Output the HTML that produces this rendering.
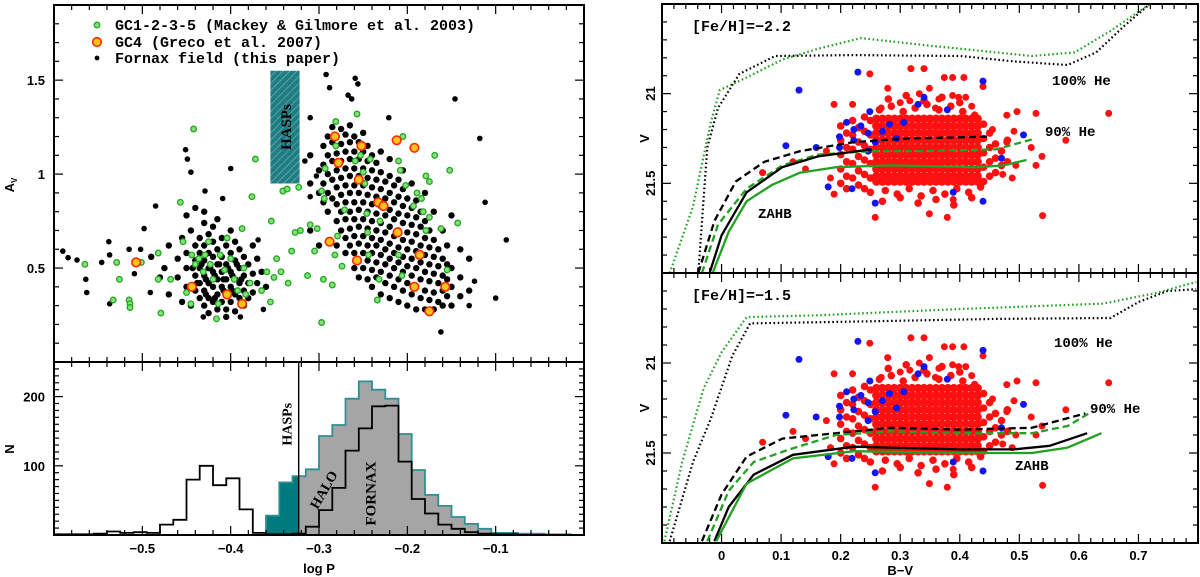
<!DOCTYPE html>
<html><head><meta charset="utf-8"><style>
html,body{margin:0;padding:0;background:#fff;}
svg{display:block;}
.tk{font-family:"Liberation Sans",sans-serif;font-weight:bold;font-size:13px;fill:#000;}
.mono{font-family:"Liberation Mono",monospace;font-weight:bold;fill:#000;}
.ser{font-family:"Liberation Serif",serif;font-weight:bold;fill:#000;}
</style></head><body>
<svg id="fig" width="1200" height="577" viewBox="0 0 1200 577" xmlns="http://www.w3.org/2000/svg">
<defs>
<pattern id="hatch" width="5" height="5" patternUnits="userSpaceOnUse" patternTransform="rotate(45)">
<rect width="5" height="5" fill="#1f7d84"/><line x1="0" y1="0" x2="0" y2="5" stroke="#7fb8bc" stroke-width="1.2"/>
</pattern>
<clipPath id="clipTL"><rect x="54" y="5" width="530" height="357"/></clipPath>
<clipPath id="clipBL"><rect x="54" y="362" width="530" height="173"/></clipPath>
<clipPath id="clipR1"><rect x="662" y="4" width="536" height="269"/></clipPath>
<clipPath id="clipR2"><rect x="662" y="273" width="536" height="270"/></clipPath>
</defs>
<g id="layer"></g>
</svg>
<script>
// ---------- LEFT TOP: Av vs logP ----------
const blackP = [-0.590,-0.584,-0.574,-0.564,-0.563,-0.546,-0.538,-0.537,-0.537,-0.515,-0.502,-0.509,-0.485,-0.498,-0.491,-0.451,-0.449,-0.445,-0.429,-0.400,-0.409,-0.363,-0.369,-0.431,-0.389,
 -0.292,-0.288,-0.259,-0.256,-0.267,-0.263,-0.221,-0.310,-0.146,-0.118,-0.112,-0.088,-0.100,-0.162,-0.124,-0.130,-0.316,-0.310,-0.303];
const blackA = [0.59,0.555,0.543,0.44,0.37,0.53,0.64,0.57,0.31,0.60,0.60,0.47,0.83,0.71,0.37,1.13,1.08,1.01,0.91,1.03,0.87,0.28,0.65,0.24,0.24,
 1.53,1.46,1.51,1.48,1.42,1.40,1.30,1.30,1.40,1.19,0.85,0.65,0.34,0.16,0.43,0.30,1.07,0.88,0.99];
const leftCoreP = [-0.47,-0.46,-0.46,-0.455,-0.45,-0.45,-0.45,-0.445,-0.44,-0.44,-0.44,-0.44,-0.435,-0.435,-0.435,-0.435,-0.435,-0.43,-0.43,-0.43,-0.43,-0.43,-0.43,-0.425,-0.425,-0.425,-0.425,-0.425,-0.42,-0.42,-0.42,-0.42,-0.42,-0.42,-0.415,-0.415,-0.415,-0.415,-0.415,-0.41,-0.41,-0.41,-0.41,-0.41,-0.405,-0.405,-0.405,-0.405,-0.405,-0.40,-0.40,-0.40,-0.40,-0.40,-0.395,-0.395,-0.395,-0.395,-0.395,-0.39,-0.39,-0.39,-0.39,-0.385,-0.385,-0.385,-0.385,-0.38,-0.38,-0.38,-0.375,-0.375,-0.375,-0.37,-0.37,-0.365,-0.36,-0.47,-0.48,-0.49,-0.475,-0.455,-0.445,-0.45,-0.44,-0.43,-0.415,-0.425,-0.405,
 -0.438,-0.428,-0.418,-0.408,-0.398,-0.388,-0.433,-0.423,-0.413,-0.403,-0.393,-0.443,-0.428,-0.418,-0.408,-0.398];
const leftCoreA = [0.62,0.55,0.45,0.66,0.58,0.50,0.40,0.70,0.62,0.54,0.46,0.38,0.66,0.58,0.50,0.42,0.34,0.74,0.62,0.54,0.46,0.38,0.30,0.68,0.58,0.50,0.42,0.34,0.72,0.64,0.56,0.48,0.40,0.32,0.60,0.52,0.44,0.36,0.28,0.66,0.56,0.48,0.40,0.32,0.62,0.52,0.44,0.36,0.28,0.70,0.58,0.48,0.40,0.32,0.64,0.54,0.44,0.36,0.27,0.60,0.50,0.42,0.34,0.56,0.46,0.38,0.30,0.52,0.42,0.34,0.62,0.47,0.37,0.55,0.42,0.48,0.40,0.36,0.45,0.56,0.50,0.32,0.30,0.78,0.82,0.80,0.76,0.26,0.24,
 0.42,0.44,0.46,0.44,0.46,0.44,0.52,0.50,0.52,0.50,0.52,0.50,0.36,0.34,0.38,0.38];
const rightCoreP = [-0.31,-0.30,-0.295,-0.29,-0.285,-0.28,-0.275,-0.27,-0.265,-0.26,-0.255,-0.25,-0.245,-0.24,-0.235,-0.23,-0.225,-0.22,-0.215,-0.21,-0.205,-0.20,-0.195,-0.19,-0.185,-0.18,-0.175,-0.17,-0.165,-0.16,-0.155,-0.15,-0.14,-0.13];
const rightCoreA = [[0.95,0.70,1.10],[0.90,1.02,0.62],[0.85,0.95,1.05,1.15],[0.80,0.90,1.00,1.10,1.20],[0.87,0.97,1.07,1.17,1.25],
 [0.62,0.75,0.84,0.93,1.02,1.11,1.20],[0.70,0.80,0.89,0.98,1.07,1.16,1.24],[0.58,0.66,0.76,0.85,0.94,1.03,1.12,1.21],[0.62,0.71,0.80,0.90,0.99,1.08,1.17,1.26],
 [0.50,0.58,0.67,0.76,0.85,0.94,1.03,1.12,1.20],[0.45,0.54,0.63,0.72,0.81,0.90,0.99,1.08,1.17],[0.50,0.58,0.67,0.76,0.85,0.94,1.03,1.12,1.22],
 [0.44,0.54,0.62,0.71,0.80,0.89,0.98,1.07,1.15],[0.40,0.49,0.58,0.66,0.75,0.84,0.93,1.02,1.10],[0.45,0.53,0.62,0.70,0.79,0.88,0.97,1.06],
 [0.36,0.48,0.57,0.65,0.74,0.83,0.92,1.01,1.12],[0.42,0.52,0.60,0.69,0.78,0.87,0.96],[0.34,0.46,0.55,0.63,0.72,0.81,0.90,0.99,1.08],
 [0.40,0.50,0.58,0.67,0.76,0.85,0.94],[0.32,0.44,0.53,0.61,0.70,0.79,0.88,0.97],[0.38,0.48,0.56,0.65,0.74,0.83,0.92,1.02],
 [0.30,0.42,0.51,0.60,0.69,0.78,0.87],[0.36,0.46,0.55,0.64,0.73,0.82,0.95],[0.28,0.40,0.50,0.59,0.68,0.77,0.86],[0.34,0.44,0.53,0.62,0.72,0.80],
 [0.28,0.38,0.48,0.57,0.66,0.75,0.90],[0.33,0.43,0.52,0.61,0.70],[0.28,0.37,0.47,0.56,0.65,0.80],[0.32,0.42,0.51,0.60],[0.30,0.38,0.46,0.55,0.70],
 [0.35,0.44,0.52,0.62],[0.30,0.40,0.50,0.78],[0.35,0.45,0.60],[0.38,0.55]];
const greenP = [-0.565,-0.533,-0.529,-0.526,-0.515,-0.514,-0.514,-0.501,-0.482,-0.479,-0.482,-0.468,-0.457,-0.454,-0.450,-0.444,-0.445,-0.442,-0.440,-0.436,-0.431,-0.429,-0.425,-0.423,-0.420,-0.416,-0.414,-0.412,-0.407,-0.404,-0.400,-0.396,-0.392,-0.387,-0.385,-0.383,-0.378,-0.376,-0.372,-0.365,-0.359,-0.355,-0.354,-0.351,-0.348,-0.343,-0.341,-0.336,-0.335,-0.331,-0.327,-0.323,-0.321,-0.313,-0.310,-0.305,-0.302,-0.297,-0.295,-0.297,-0.294,-0.293,-0.285,-0.281,-0.281,-0.279,-0.282,-0.274,-0.271,-0.257,-0.259,-0.253,-0.250,-0.248,-0.246,-0.245,-0.244,-0.242,-0.234,-0.232,-0.231,-0.210,-0.208,-0.210,-0.206,-0.205,-0.202,-0.193,-0.189,-0.184,-0.182,-0.179,-0.179,-0.175,-0.169,-0.175,-0.162,-0.155,-0.152,-0.143];
const greenA = [0.52,0.33,0.53,0.44,0.33,0.31,0.29,0.53,0.58,0.26,0.44,0.44,0.85,0.64,0.37,0.57,0.31,1.24,0.52,0.55,0.48,0.57,0.64,0.52,0.44,0.23,0.31,0.57,0.49,0.66,0.55,0.44,0.38,0.71,0.50,0.36,0.42,0.88,1.08,0.38,0.48,0.32,0.75,0.45,0.55,0.48,0.91,0.92,0.42,0.59,0.69,0.93,0.70,0.46,0.73,0.59,0.71,0.91,0.44,0.21,0.87,1.03,0.41,1.28,1.15,0.67,0.57,0.51,0.81,1.32,1.07,1.10,1.01,0.95,0.79,0.69,0.57,1.08,0.33,0.44,0.75,1.07,1.02,0.57,0.46,1.20,0.94,0.83,0.90,0.87,0.80,0.70,0.99,0.96,1.10,0.77,0.71,0.49,1.02,0.74];
const gc4P = [-0.507,-0.444,-0.404,-0.387,-0.288,-0.282,-0.278,-0.255,-0.252,-0.257,-0.233,-0.227,-0.212,-0.211,-0.192,-0.192,-0.186,-0.175,-0.157];
const gc4A = [0.53,0.40,0.36,0.31,0.64,1.20,1.06,0.97,1.15,0.54,0.85,0.83,1.18,0.69,1.14,0.40,0.57,0.27,0.40];
const haspsBox = [-0.355,-0.322,0.95,1.55];

// ---------- LEFT BOTTOM: histograms ----------
const binStart = -0.6, binWidth = 0.015;
const totalHist = [1,1,1,2,5,3,4,3,15,22,80,100,72,82,37,3,1,1,2,12,36,68,122,154,186,187,106,52,31,15,9,4,2,1,1,0,0,0,0,0];
const haloHist  = [0,0,0,0,0,0,0,0,0,0,0,0,0,0,0,0,28,76,85,95,143,159,197,222,210,197,146,94,58,42,26,16,9,3,3,2,2,1,1,0];
const haspsCut = -0.323;

// ---------- RIGHT: CMDs ----------
const redBV = [0.249,0.318,0.340,0.279,0.349,0.374,0.388,0.407,0.439,0.316,0.388,0.398,0.410,0.189,0.220,0.359,0.496,0.479,0.528,0.650,0.578,0.538,0.528,0.488,0.539,0.379,0.349,0.258,0.389,0.189,0.069,0.120,0.141,0.494,0.520,0.479,0.491,0.300,0.365,0.420,0.268,0.332,0.455,0.472,0.176,0.183];
const redV  = [20.89,20.86,20.86,20.97,20.97,20.91,20.91,20.91,20.96,21.04,21.01,21.02,21.02,21.06,21.06,21.08,21.10,21.12,21.11,21.11,21.26,21.35,21.40,21.47,21.68,21.69,21.67,21.69,21.59,21.56,21.44,21.38,21.42,21.40,21.30,21.27,21.21,21.05,21.03,21.07,21.08,21.00,21.20,21.45,21.32,21.47];
const redColBV = [0.20,0.21,0.22,0.23,0.24,0.25,0.44,0.45,0.46,0.47,0.48];
const redColV = [[21.18,21.26,21.34,21.42,21.50],[21.22,21.30,21.38,21.46,21.53],[21.15,21.23,21.31,21.39,21.47],[21.19,21.27,21.35,21.43,21.51],
 [21.13,21.21,21.29,21.37,21.45,21.53],[21.15,21.23,21.31,21.39,21.47,21.55],[21.17,21.25,21.33,21.41,21.49],[21.22,21.30,21.38,21.46],
 [21.28,21.36,21.44],[21.32,21.40],[21.26,21.38]];
const redCoreBV = [0.26,0.27,0.28,0.29,0.30,0.31,0.32,0.33,0.34,0.35,0.36,0.37,0.38,0.39,0.40,0.41,0.42,0.43];
const redCoreV  = [21.14,21.18,21.22,21.26,21.30,21.34,21.38,21.42,21.46,21.49];
const redFringeBV = [0.265,0.285,0.305,0.325,0.345,0.365,0.385,0.405,0.425,0.275,0.295,0.315,0.335,0.355,0.375,0.395,0.415,0.435,0.27,0.30,0.33,0.36,0.39,0.42,0.28,0.31,0.34,0.37,0.40];
const redFringeV  = [21.09,21.07,21.10,21.08,21.06,21.09,21.07,21.10,21.12,21.54,21.56,21.53,21.57,21.54,21.56,21.53,21.55,21.52,21.60,21.58,21.61,21.59,21.62,21.58,21.03,21.01,21.04,21.02,21.05];
const blueBV = [0.229,0.130,0.439,0.340,0.330,0.379,0.249,0.108,0.159,0.179,0.219,0.258,0.439,0.389,0.507,0.470,0.210,0.222,0.234,0.246,0.198,0.222,0.270,0.282,0.306,0.294,0.258,0.246,0.198];
const blueV  = [20.88,20.98,20.93,21.02,21.06,21.09,21.10,21.29,21.30,21.52,21.53,21.61,21.60,21.55,21.23,21.36,21.16,21.20,21.18,21.22,21.24,21.26,21.21,21.17,21.16,21.25,21.27,21.32,21.30];

const t1 = {
 gdotBV:[-0.087,-0.048,-0.018,-0.003,0.042,0.102,0.162,0.234,0.342,0.461,0.521,0.593,0.653,0.719],
 gdotV:[22.0,21.63,21.16,20.98,20.91,20.81,20.75,20.69,20.73,20.77,20.79,20.77,20.65,20.50],
 kdotBV:[-0.039,-0.024,-0.006,0.030,0.090,0.222,0.401,0.491,0.581,0.629,0.677,0.719],
 kdotV:[22.0,21.30,21.08,20.89,20.79,20.785,20.79,20.82,20.84,20.77,20.62,20.50],
 kdashBV:[-0.039,-0.012,0.024,0.072,0.132,0.222,0.312,0.446],
 kdashV:[22.0,21.71,21.49,21.38,21.32,21.27,21.25,21.24],
 gdashBV:[-0.033,-0.006,0.042,0.102,0.162,0.252,0.342,0.461,0.527],
 gdashV:[22.0,21.73,21.53,21.40,21.34,21.32,21.32,21.31,21.25],
 ksolBV:[-0.020,0,0.042,0.102,0.162,0.252],
 ksolV:[22.0,21.79,21.55,21.41,21.35,21.31],
 gsolBV:[-0.015,0.012,0.042,0.084,0.132,0.192,0.282,0.431,0.473,0.512],
 gsolV:[22.0,21.77,21.60,21.51,21.44,21.41,21.40,21.41,21.40,21.37]
};
const t2 = {
 gdotBV:[-0.096,-0.066,-0.030,0,0.042,0.162,0.401,0.641,0.731,0.797],
 gdotV:[21.99,21.55,21.14,20.94,20.745,20.735,20.70,20.67,20.61,20.55],
 kdotBV:[-0.087,-0.048,-0.018,0.018,0.048,0.222,0.461,0.653,0.701,0.749,0.797],
 kdotV:[21.99,21.55,21.31,20.96,20.78,20.77,20.755,20.75,20.66,20.60,20.59],
 kdashBV:[-0.033,0,0.042,0.102,0.162,0.282,0.401,0.521,0.611],
 kdashV:[21.99,21.73,21.52,21.42,21.40,21.36,21.37,21.36,21.28],
 gdashBV:[-0.024,0.012,0.054,0.114,0.192,0.282,0.401,0.521,0.581,0.617],
 gdashV:[21.99,21.71,21.55,21.48,21.40,21.38,21.39,21.39,21.35,21.28],
 ksolBV:[-0.012,0.012,0.054,0.120,0.222,0.401,0.491,0.551,0.614],
 ksolV:[21.99,21.80,21.62,21.51,21.465,21.48,21.48,21.46,21.39],
 gsolBV:[-0.009,0.042,0.120,0.222,0.401,0.521,0.581,0.638],
 gsolV:[21.99,21.67,21.53,21.49,21.50,21.50,21.47,21.39]
};

// ---------- scales ----------
const xL = p => 54 + (p + 0.6) / 0.6 * 530;
const yA = a => 362 - a / 1.9 * 357;
const yN = n => 535 - n / 250 * 173;
const xR = b => 662 + (b + 0.1) / 0.9 * 536;
const yV1 = v => 4 + (v - 20.5) / 1.5 * 269;
const yV2 = v => 273 + (v - 20.5) / 1.5 * 270;

const NS = "http://www.w3.org/2000/svg";
const root = document.getElementById('layer');
function mk(tag, attrs, parent) {
  const e = document.createElementNS(NS, tag);
  for (const k in attrs) e.setAttribute(k, attrs[k]);
  (parent || root).appendChild(e);
  return e;
}
function grp(name, clip) {
  const g = mk('g', clip ? {'clip-path': 'url(#' + clip + ')'} : {});
  
  
  return g;
}
function dot(g, cx, cy, r, fill, stroke, sw, name) {
  const c = mk('circle', {cx: cx.toFixed(1), cy: cy.toFixed(1), r: r, fill: fill, stroke: stroke || 'none', 'stroke-width': sw || 0}, g);
  
  
  return c;
}
function text(g, x, y, s, cls, size, anchor, rot, name) {
  const t = mk('text', {x: x, y: y, class: cls, 'font-size': size, 'text-anchor': anchor || 'start'}, g);
  if (rot) t.setAttribute('transform', 'rotate(' + rot + ' ' + x + ' ' + y + ')');
  t.textContent = s;
  
  
  return t;
}
function line(g, x1, y1, x2, y2, sw, col) {
  return mk('line', {x1: x1, y1: y1, x2: x2, y2: y2, stroke: col || '#000', 'stroke-width': sw || 1}, g);
}
function xTicks(g, sx, lo, hi, minor, majorEvery, yTop, yBot) {
  const n = Math.round((hi - lo) / minor);
  for (let i = 0; i <= n; i++) {
    const v = lo + i * minor; const x = sx(v);
    const isMaj = i % majorEvery === 0; const L = isMaj ? 9 : 5;
    line(g, x, yBot, x, yBot - L, 1.2);
    line(g, x, yTop, x, yTop + L, 1.2);
  }
}
function yTicks(g, sy, lo, hi, minor, majorEvery, xLeft, xRight) {
  const n = Math.round((hi - lo) / minor);
  for (let i = 0; i <= n; i++) {
    const v = lo + i * minor; const y = sy(v);
    const isMaj = i % majorEvery === 0; const L = isMaj ? 9 : 5;
    line(g, xLeft, y, xLeft + L, y, 1.2);
    line(g, xRight, y, xRight - L, y, 1.2);
  }
}
function frame(x, y, w, h, name) {
  const r = mk('rect', {x: x, y: y, width: w, height: h, fill: 'none', stroke: '#000', 'stroke-width': 2});
  
  
}

// ===== Left top panel =====
{
  const g = grp('hasps-box', 'clipTL');
  const r = mk('rect', {x: xL(haspsBox[0]), y: yA(haspsBox[3]), width: xL(haspsBox[1]) - xL(haspsBox[0]), height: yA(haspsBox[2]) - yA(haspsBox[3]), fill: 'url(#hatch)'}, g);
  
  
  const cx = (xL(haspsBox[0]) + xL(haspsBox[1])) / 2 + 6, cy = yA(1.25);
  text(g, cx, cy, 'HASPs', 'ser', 15, 'middle', -90, 'hasps-label');

  const gb = grp('fornax-field-points', 'clipTL');
  for (let i = 0; i < blackP.length; i++) dot(gb, xL(blackP[i]), yA(blackA[i]), 2.8, '#000', null, 0, 'fornax-point');
  for (let i = 0; i < leftCoreP.length; i++) dot(gb, xL(leftCoreP[i]), yA(leftCoreA[i]), 3.2, '#000', null, 0, 'fornax-point');
  for (let j = 0; j < rightCoreP.length; j++) for (const a of rightCoreA[j]) dot(gb, xL(rightCoreP[j]), yA(a), 3.2, '#000', null, 0, 'fornax-point');

  const gg = grp('gc1235-points', 'clipTL');
  for (let i = 0; i < greenP.length; i++) dot(gg, xL(greenP[i]), yA(greenA[i]), 2.8, '#86e07a', '#21a821', 1.3, 'gc1235-point');
  const go = grp('gc4-points', 'clipTL');
  for (let i = 0; i < gc4P.length; i++) dot(go, xL(gc4P[i]), yA(gc4A[i]), 4.3, '#ffc21a', '#ff2a00', 1.6, 'gc4-point');

  const gt = grp('top-left-axes');
  xTicks(gt, xL, -0.6, 0, 0.02, 5, 5, 362);
  yTicks(gt, yA, 0, 1.9, 0.1, 5, 54, 584);
  [['1.5', 1.5], ['1', 1], ['0.5', 0.5]].forEach(([s, v]) => text(gt, 45, yA(v) + 5, s, 'tk', 13, 'end', 0, 'y-tick-label'));
  const av = text(gt, 14, 185, 'A', 'tk', 12, 'middle', -90, 'y-axis-title-av');
  const sub = mk('tspan', {'font-size': 8, dy: 3}, av); sub.textContent = 'V';

  const lg = grp('legend');
  dot(lg, 97, 25, 2.8, '#86e07a', '#21a821', 1.3, 'legend-marker-gc1235');
  dot(lg, 97, 42, 4.3, '#ffc21a', '#ff2a00', 1.6, 'legend-marker-gc4');
  dot(lg, 97, 58, 2.4, '#000', null, 0, 'legend-marker-fornax');
  text(lg, 115, 30, 'GC1-2-3-5 (Mackey & Gilmore et al. 2003)', 'mono', 15, 'start', 0, 'legend-entry-gc1235');
  text(lg, 115, 47, 'GC4 (Greco et al. 2007)', 'mono', 15, 'start', 0, 'legend-entry-gc4');
  text(lg, 115, 63, 'Fornax field (this paper)', 'mono', 15, 'start', 0, 'legend-entry-fornax');
}

// ===== Left bottom panel =====
{
  const g = grp('histograms', 'clipBL');
  function stepPath(arr, first) {
    let d = '';
    let started = false;
    for (let i = first; i < arr.length; i++) {
      const x0 = xL(binStart + i * binWidth), x1 = xL(binStart + (i + 1) * binWidth), y = yN(arr[i]);
      if (!started) { d += 'M' + x0.toFixed(1) + ',' + yN(0) + 'L' + x0.toFixed(1) + ',' + y.toFixed(1); started = true; }
      else d += 'L' + x0.toFixed(1) + ',' + y.toFixed(1);
      d += 'L' + x1.toFixed(1) + ',' + y.toFixed(1);
    }
    return d;
  }
  const haloD = stepPath(haloHist, 16);
  const hf = mk('path', {d: haloD + 'L' + xL(0) + ',' + yN(0) + 'Z', fill: '#a5a5a5', stroke: 'none'}, g);
  
  
  const cp = mk('clipPath', {id: 'tealclip'}, g);
  mk('rect', {x: xL(-0.6), y: 362, width: xL(haspsCut) - xL(-0.6), height: 173}, cp);
  const tf = mk('path', {d: haloD + 'L' + xL(0) + ',' + yN(0) + 'Z', fill: '#007a7c', stroke: 'none', 'clip-path': 'url(#tealclip)'}, g);
  
  
  const ho = mk('path', {d: haloD, fill: 'none', stroke: '#2f8f93', 'stroke-width': 1.8}, g);
  
  
  const to = mk('path', {d: stepPath(totalHist, 0), fill: 'none', stroke: '#000', 'stroke-width': 1.8}, g);
  
  
  const vl = line(g, xL(haspsCut), 362, xL(haspsCut), 535, 1.4);
  
  
  text(g, xL(haspsCut) - 7, yN(160), 'HASPs', 'ser', 14, 'middle', -90, 'hasps-hist-label');
  text(g, xL(-0.29), yN(62), 'HALO', 'ser', 14, 'middle', -60, 'halo-label');
  text(g, xL(-0.236), yN(60), 'FORNAX', 'ser', 15, 'middle', -90, 'fornax-label');

  const gt = grp('bottom-left-axes');
  xTicks(gt, xL, -0.6, 0, 0.02, 5, 362, 535);
  yTicks(gt, yN, 0, 250, 10, 10, 54, 584);
  [['200', 200], ['100', 100]].forEach(([s, v]) => text(gt, 45, yN(v) + 5, s, 'tk', 13, 'end', 0, 'y-tick-label'));
  text(gt, 14, 449, 'N', 'tk', 13, 'middle', -90, 'y-axis-title-n');
  [-0.5, -0.4, -0.3, -0.2, -0.1].forEach(v => text(gt, xL(v), 553, '\u2212' + Math.abs(v).toFixed(1), 'tk', 13, 'middle', 0, 'x-tick-label'));
  text(gt, xL(-0.3), 573, 'log P', 'tk', 13, 'middle', 0, 'x-axis-title');
  frame(54, 5, 530, 357, 'top-left-frame');
  frame(54, 362, 530, 173, 'bottom-left-frame');
}

// ===== Right panels =====
function cmd(sy, clip, curves, pre, labels) {
  const gp = grp(pre + '-points', clip);
  const R = 3.5, RED = '#ff1010';
  for (let i = 0; i < redBV.length; i++) dot(gp, xR(redBV[i]), sy(redV[i]), R, RED, null, 0, 'red-star');
  for (let j = 0; j < redColBV.length; j++) for (const v of redColV[j]) dot(gp, xR(redColBV[j]), sy(v), 3.8, RED, null, 0, 'red-star');
  for (let i = 0; i < redFringeBV.length; i++) dot(gp, xR(redFringeBV[i]), sy(redFringeV[i]), 3.8, RED, null, 0, 'red-star');
  for (const b of redCoreBV) for (const v of redCoreV) dot(gp, xR(b), sy(v), 4.3, RED, null, 0, 'red-star');
  for (let i = 0; i < blueBV.length; i++) dot(gp, xR(blueBV[i]), sy(blueV[i]), R, '#1414f0', null, 0, 'blue-star');

  const gc = grp(pre + '-models', clip);
  const styles = [
    ['gdot', '#22a022', '1.6,2.6', 2.2, 'green-100he-track'],
    ['kdot', '#000', '1.6,2.6', 2.2, 'black-100he-track'],
    ['kdash', '#000', '7,4', 2.3, 'black-90he-track'],
    ['gdash', '#22a022', '7,4', 2.3, 'green-90he-track'],
    ['ksol', '#000', '', 2.3, 'black-zahb'],
    ['gsol', '#22a022', '', 2.3, 'green-zahb']
  ];
  for (const [k, col, da, w, nm] of styles) {
    const bv = curves[k + 'BV'], v = curves[k + 'V'];
    const pts = bv.map((b, i) => xR(b).toFixed(1) + ',' + sy(v[i]).toFixed(1)).join(' ');
    const p = mk('polyline', {points: pts, fill: 'none', stroke: col, 'stroke-width': w, 'stroke-dasharray': da, 'stroke-linejoin': 'round'}, gc);
    
    
  }
  const gl = grp(pre + '-labels');
  for (const [s, x, y, nm, sz] of labels) text(gl, x, y, s, 'mono', sz, 'start', 0, nm);
}
cmd(yV1, 'clipR1', t1, 'feh22', [
  ['[Fe/H]=\u22122.2', 692, 31, 'metallicity-label', 15],
  ['100% He', 1052, 85, 'label-100he', 14],
  ['90% He', 1045, 136, 'label-90he', 14],
  ['ZAHB', 758, 218, 'label-zahb', 14]
]);
cmd(yV2, 'clipR2', t2, 'feh15', [
  ['[Fe/H]=\u22121.5', 692, 300, 'metallicity-label', 15],
  ['100% He', 1054, 347, 'label-100he', 14],
  ['90% He', 1090, 413, 'label-90he', 14],
  ['ZAHB', 1015, 470, 'label-zahb', 14]
]);
{
  const gt = grp('right-axes');
  xTicks(gt, xR, -0.1, 0.8, 0.02, 5, 4, 273);
  xTicks(gt, xR, -0.1, 0.8, 0.02, 5, 273, 543);
  yTicks(gt, yV1, 20.5, 22.0, 0.1, 5, 662, 1198);
  yTicks(gt, yV2, 20.5, 22.0, 0.1, 5, 662, 1198);
  [yV1, yV2].forEach(sy => {
    text(gt, 655, sy(21), '21', 'tk', 13, 'middle', -90, 'y-tick-label');
    text(gt, 655, sy(21.5), '21.5', 'tk', 13, 'middle', -90, 'y-tick-label');
    text(gt, 649, sy(21.25), 'V', 'tk', 13, 'middle', -90, 'y-axis-title-v');
  });
  [0, 0.1, 0.2, 0.3, 0.4, 0.5, 0.6, 0.7].forEach(v => text(gt, xR(v), 560, v === 0 ? '0' : v.toFixed(1), 'tk', 13, 'middle', 0, 'x-tick-label'));
  text(gt, xR(0.3), 575, 'B\u2212V', 'tk', 13, 'middle', 0, 'x-axis-title');
  frame(662, 4, 536, 269, 'top-right-frame');
  frame(662, 273, 536, 270, 'bottom-right-frame');
}
</script>
</body></html>
